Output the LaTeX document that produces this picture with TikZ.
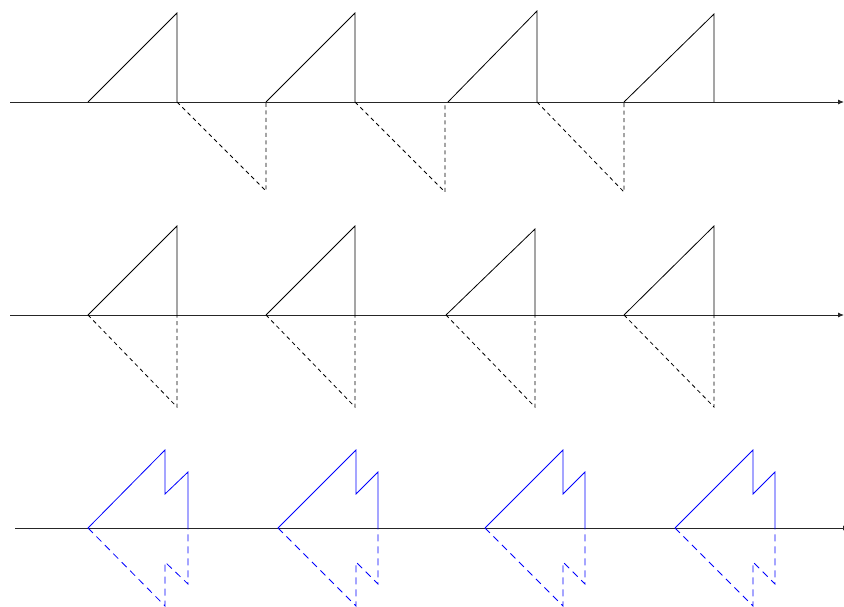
\documentclass[tikz,border=0pt]{standalone}
\usepackage{tikz}
\usetikzlibrary{arrows.meta}

\begin{document}
\begin{tikzpicture}[
    x=1pt, y=-1pt,
    axis/.style={-{Latex[length=6pt, width=5pt]}, line width=0.9pt, black!85},
    saw/.style={line width=0.8pt, #1},
    saw/.default={black},
    mirror/.style={line width=0.8pt, dash pattern=on 4pt off 3.5pt, #1},
    mirror/.default={black}
]
\useasboundingbox (0,0) rectangle (844,607);
\clip (0,0) rectangle (844,607);

% === EJES ===
\coordinate (ax1s) at (10,102);  \coordinate (ax1e) at (844,102);
\coordinate (ax2s) at (10,315);  \coordinate (ax2e) at (844,315);
\coordinate (ax3s) at (15,528);  \coordinate (ax3e) at (849,528);
\draw[axis] (ax1s) -- (ax1e);
\draw[axis] (ax2s) -- (ax2e);
\draw[axis] (ax3s) -- (ax3e);

% === FILA 1: DIENTES Y REFLEJO DESPLAZADO ===
\draw[saw] (88,102) -- (177,13) -- (177,102);
\draw[saw] (266,102) -- (355,13) -- (355,102);
\draw[saw] (448,102) -- (537,11) -- (537,102);
\draw[saw] (624,102) -- (714,14) -- (714,102);
\draw[mirror] (177,102) -- (266,191) -- (266,102);
\draw[mirror] (355,102) -- (445,192) -- (445,102);
\draw[mirror] (537,102) -- (624,192) -- (624,102);

% === FILA 2: DIENTES Y REFLEJO ===
\draw[saw] (88,315) -- (177,226) -- (177,315);
\draw[saw] (266,315) -- (355,226) -- (355,315);
\draw[saw] (446,315) -- (535,229) -- (535,315);
\draw[saw] (624,315) -- (714,226) -- (714,315);
\draw[mirror] (88,315) -- (177,407) -- (177,315);
\draw[mirror] (266,315) -- (355,407) -- (355,315);
\draw[mirror] (446,315) -- (535,407) -- (535,315);
\draw[mirror] (624,315) -- (714,407) -- (714,315);

% === FILA 3: SUMA (AZUL) ===
\draw[saw=blue] (88,528) -- (165,450) -- (165,494) -- (188,472) -- (188,528);
\draw[saw=blue] (278,528) -- (356,450) -- (356,494) -- (378,472) -- (378,528);
\draw[saw=blue] (485,528) -- (563,450) -- (563,494) -- (585,472) -- (585,528);
\draw[saw=blue] (675,528) -- (753,450) -- (753,494) -- (775,472) -- (775,528);
\draw[mirror={blue, dash pattern=on 7pt off 5pt}] (88,528) -- (165,606) -- (165,562) -- (188,584) -- (188,528);
\draw[mirror={blue, dash pattern=on 7pt off 5pt}] (278,528) -- (356,606) -- (356,562) -- (378,584) -- (378,528);
\draw[mirror={blue, dash pattern=on 7pt off 5pt}] (485,528) -- (563,606) -- (563,562) -- (585,584) -- (585,528);
\draw[mirror={blue, dash pattern=on 7pt off 5pt}] (675,528) -- (753,606) -- (753,562) -- (775,584) -- (775,528);

\end{tikzpicture}
\end{document}
